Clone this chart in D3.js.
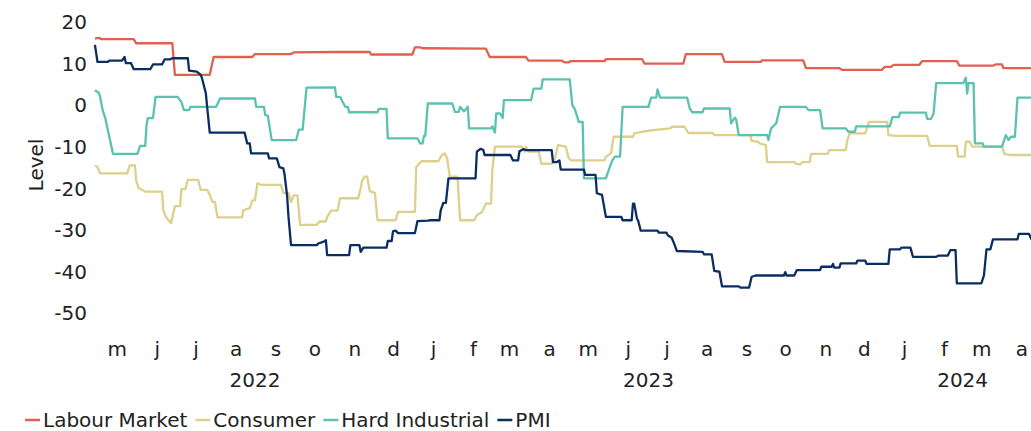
<!DOCTYPE html>
<html>
<head>
<meta charset="utf-8">
<script src="https://cdn.jsdelivr.net/npm/d3@7"></script>
<style>
    body { margin: 0; background: #fff; }
    svg text { font-family: "DejaVu Sans", sans-serif; fill: #222; }
</style>
</head>
<body>
<div id="chart"></div>
<script>

// DATA

const labourMarket = [["2022-04-29", 16.1], ["2022-05-02", 16.3], ["2022-05-04", 16.0], ["2022-05-29", 16.0], ["2022-05-31", 15.0], ["2022-06-28", 15.0], ["2022-06-30", 7.4], ["2022-07-27", 7.4], ["2022-07-30", 11.7], ["2022-08-29", 11.7], ["2022-08-31", 12.4], ["2022-09-28", 12.4], ["2022-09-30", 12.8], ["2022-10-30", 12.9], ["2022-11-28", 12.9], ["2022-11-29", 12.3], ["2022-12-31", 12.3], ["2023-01-02", 14.0], ["2023-01-06", 14.0], ["2023-01-08", 13.8], ["2023-02-26", 13.7], ["2023-03-01", 11.7], ["2023-03-29", 11.7], ["2023-03-31", 10.8], ["2023-04-26", 10.8], ["2023-04-28", 10.4], ["2023-05-01", 10.4], ["2023-05-03", 10.7], ["2023-05-29", 10.7], ["2023-05-30", 11.2], ["2023-06-27", 11.2], ["2023-06-29", 10.1], ["2023-07-29", 10.1], ["2023-07-31", 12.4], ["2023-08-28", 12.4], ["2023-08-30", 10.5], ["2023-09-27", 10.5], ["2023-09-28", 10.9], ["2023-10-30", 10.9], ["2023-11-01", 9.0], ["2023-11-27", 9.0], ["2023-11-29", 8.6], ["2023-12-30", 8.6], ["2024-01-01", 9.3], ["2024-01-06", 9.3], ["2024-01-08", 9.8], ["2024-01-28", 9.8], ["2024-01-30", 10.7], ["2024-02-26", 10.7], ["2024-02-28", 9.6], ["2024-03-25", 9.6], ["2024-03-27", 9.9], ["2024-04-01", 9.9], ["2024-04-02", 9.0], ["2024-04-26", 9.0]];

const consumer = [["2022-04-29", -14.4], ["2022-05-01", -14.8], ["2022-05-03", -16.3], ["2022-05-24", -16.3], ["2022-05-26", -14.4], ["2022-05-30", -14.4], ["2022-05-31", -18.1], ["2022-06-02", -19.9], ["2022-06-07", -20.7], ["2022-06-20", -20.7], ["2022-06-21", -25.2], ["2022-06-23", -26.8], ["2022-06-26", -27.9], ["2022-06-27", -28.3], ["2022-06-30", -24.2], ["2022-07-04", -24.2], ["2022-07-05", -20.1], ["2022-07-08", -20.1], ["2022-07-10", -17.9], ["2022-07-18", -17.9], ["2022-07-20", -20.3], ["2022-07-25", -20.3], ["2022-07-27", -21.5], ["2022-07-29", -23.2], ["2022-07-31", -23.2], ["2022-08-02", -26.9], ["2022-08-21", -26.9], ["2022-08-22", -25.2], ["2022-08-27", -24.7], ["2022-08-29", -22.8], ["2022-08-31", -22.8], ["2022-09-02", -18.7], ["2022-09-05", -19.1], ["2022-09-20", -19.1], ["2022-09-22", -21.0], ["2022-09-26", -21.0], ["2022-09-28", -23.2], ["2022-09-30", -21.6], ["2022-10-03", -21.6], ["2022-10-05", -28.7], ["2022-10-18", -28.7], ["2022-10-20", -27.9], ["2022-10-25", -27.9], ["2022-10-26", -26.8], ["2022-10-29", -25.3], ["2022-11-03", -25.3], ["2022-11-05", -22.3], ["2022-11-19", -22.3], ["2022-11-21", -19.9], ["2022-11-22", -18.1], ["2022-11-24", -17.1], ["2022-11-26", -17.1], ["2022-11-28", -20.6], ["2022-12-02", -21.0], ["2022-12-04", -27.6], ["2022-12-18", -27.6], ["2022-12-20", -25.6], ["2023-01-02", -25.6], ["2023-01-03", -14.8], ["2023-01-07", -13.4], ["2023-01-20", -13.4], ["2023-01-23", -11.9], ["2023-01-25", -11.5], ["2023-01-27", -12.7], ["2023-01-29", -17.1], ["2023-02-04", -17.1], ["2023-02-06", -27.6], ["2023-02-17", -27.6], ["2023-02-19", -26.4], ["2023-02-23", -25.6], ["2023-02-26", -23.6], ["2023-03-02", -23.6], ["2023-03-03", -15.6], ["2023-03-05", -9.9], ["2023-03-26", -9.9], ["2023-03-28", -11.1], ["2023-03-29", -9.9], ["2023-03-31", -11.1], ["2023-04-08", -11.1], ["2023-04-10", -14.0], ["2023-04-18", -14.0], ["2023-04-20", -13.3], ["2023-04-23", -9.5], ["2023-04-29", -9.9], ["2023-05-01", -12.5], ["2023-05-03", -13.2], ["2023-05-29", -13.2], ["2023-05-30", -12.3], ["2023-06-03", -11.5], ["2023-06-05", -7.5], ["2023-06-20", -7.5], ["2023-06-21", -6.7], ["2023-06-27", -6.3], ["2023-07-03", -6.0], ["2023-07-19", -5.5], ["2023-07-20", -5.1], ["2023-07-30", -5.1], ["2023-08-02", -6.6], ["2023-08-21", -6.6], ["2023-08-22", -7.1], ["2023-09-19", -7.1], ["2023-09-20", -8.5], ["2023-09-25", -8.7], ["2023-09-26", -9.1], ["2023-10-01", -9.5], ["2023-10-02", -13.6], ["2023-10-23", -13.6], ["2023-10-25", -14.1], ["2023-10-28", -14.1], ["2023-10-29", -13.6], ["2023-11-04", -13.6], ["2023-11-05", -11.6], ["2023-11-18", -11.6], ["2023-11-19", -10.7], ["2023-12-02", -10.7], ["2023-12-03", -8.5], ["2023-12-05", -6.7], ["2023-12-17", -6.7], ["2023-12-20", -3.9], ["2024-01-03", -3.9], ["2024-01-04", -7.1], ["2024-01-10", -7.3], ["2024-02-03", -7.3], ["2024-02-05", -9.7], ["2024-02-26", -9.7], ["2024-02-27", -12.3], ["2024-03-03", -12.3], ["2024-03-04", -8.7], ["2024-03-07", -8.7], ["2024-03-09", -9.9], ["2024-04-01", -9.9], ["2024-04-03", -11.7], ["2024-04-09", -11.9], ["2024-04-26", -11.9]];

const hardIndustrial = [["2022-04-29", 3.7], ["2022-05-02", 3.1], ["2022-05-03", 2.1], ["2022-05-05", -1.1], ["2022-05-07", -3.0], ["2022-05-09", -5.9], ["2022-05-13", -11.6], ["2022-06-01", -11.6], ["2022-06-03", -9.7], ["2022-06-07", -9.7], ["2022-06-08", -4.7], ["2022-06-09", -3.0], ["2022-06-13", -3.0], ["2022-06-15", 2.1], ["2022-07-02", 2.1], ["2022-07-05", 0.9], ["2022-07-07", -1.1], ["2022-07-11", -1.1], ["2022-07-12", -0.3], ["2022-08-01", -0.3], ["2022-08-04", 1.7], ["2022-08-31", 1.7], ["2022-09-01", -0.3], ["2022-09-07", -0.3], ["2022-09-08", -2.3], ["2022-09-10", -2.4], ["2022-09-13", -8.3], ["2022-10-02", -8.3], ["2022-10-04", -5.8], ["2022-10-07", -5.8], ["2022-10-10", 4.3], ["2022-11-01", 4.4], ["2022-11-02", 2.1], ["2022-11-05", 2.1], ["2022-11-09", -0.3], ["2022-11-11", -0.3], ["2022-11-12", -1.6], ["2022-12-04", -1.6], ["2022-12-05", -0.8], ["2022-12-11", -0.8], ["2022-12-12", -7.9], ["2023-01-04", -7.9], ["2023-01-06", -9.1], ["2023-01-08", -9.1], ["2023-01-09", -7.3], ["2023-01-10", -7.3], ["2023-01-12", 0.5], ["2023-01-31", 0.5], ["2023-02-02", -1.5], ["2023-02-05", -1.5], ["2023-02-06", -0.3], ["2023-02-09", -1.4], ["2023-02-12", -0.3], ["2023-02-13", -5.5], ["2023-03-02", -5.5], ["2023-03-03", -5.0], ["2023-03-05", -6.5], ["2023-03-06", -1.9], ["2023-03-09", -1.9], ["2023-03-11", -3.0], ["2023-03-12", 1.3], ["2023-04-02", 1.3], ["2023-04-04", 4.1], ["2023-04-10", 4.1], ["2023-04-11", 6.3], ["2023-05-02", 6.3], ["2023-05-04", 0.1], ["2023-05-06", -0.9], ["2023-05-09", -3.9], ["2023-05-12", -3.9], ["2023-05-13", -17.5], ["2023-05-30", -17.5], ["2023-06-02", -14.8], ["2023-06-04", -13.2], ["2023-06-06", -12.3], ["2023-06-10", -12.3], ["2023-06-12", -0.3], ["2023-07-02", -0.3], ["2023-07-04", 1.9], ["2023-07-08", 1.9], ["2023-07-09", 3.9], ["2023-07-11", 1.9], ["2023-08-01", 1.9], ["2023-08-03", -0.7], ["2023-08-05", -1.6], ["2023-08-13", -1.6], ["2023-08-14", -0.7], ["2023-09-03", -0.7], ["2023-09-04", -4.3], ["2023-09-07", -2.9], ["2023-09-08", -3.4], ["2023-09-10", -7.1], ["2023-10-02", -7.1], ["2023-10-03", -8.3], ["2023-10-05", -5.5], ["2023-10-09", -4.3], ["2023-10-12", -0.3], ["2023-11-01", -0.3], ["2023-11-03", -1.1], ["2023-11-12", -1.1], ["2023-11-14", -5.5], ["2023-12-02", -5.5], ["2023-12-04", -6.3], ["2023-12-09", -6.3], ["2023-12-10", -5.0], ["2024-01-05", -5.0], ["2024-01-07", -2.8], ["2024-01-12", -2.8], ["2024-01-13", -1.7], ["2024-02-02", -1.7], ["2024-02-03", -3.2], ["2024-02-06", -3.2], ["2024-02-08", -1.9], ["2024-02-10", 5.4], ["2024-03-02", 5.4], ["2024-03-04", 6.7], ["2024-03-05", 2.9], ["2024-03-06", 5.4], ["2024-03-10", 5.4], ["2024-03-11", -9.1], ["2024-03-17", -9.1], ["2024-03-18", -9.9], ["2024-04-01", -9.9], ["2024-04-04", -7.1], ["2024-04-06", -8.3], ["2024-04-08", -7.5], ["2024-04-11", -7.5], ["2024-04-13", 1.9], ["2024-04-26", 1.9]];

const pmi = [["2022-04-29", 14.6], ["2022-05-01", 10.5], ["2022-05-09", 10.5], ["2022-05-10", 10.8], ["2022-05-20", 10.8], ["2022-05-22", 11.7], ["2022-05-23", 10.2], ["2022-05-27", 10.2], ["2022-05-29", 8.8], ["2022-06-11", 8.8], ["2022-06-13", 9.9], ["2022-06-20", 9.9], ["2022-06-22", 11.1], ["2022-06-26", 11.1], ["2022-06-28", 11.4], ["2022-07-10", 11.4], ["2022-07-11", 8.4], ["2022-07-17", 8.2], ["2022-07-20", 7.4], ["2022-07-21", 6.6], ["2022-07-24", 2.9], ["2022-07-25", -0.4], ["2022-07-27", -6.5], ["2022-08-23", -6.5], ["2022-08-25", -9.1], ["2022-08-27", -9.1], ["2022-08-28", -11.5], ["2022-09-10", -11.5], ["2022-09-11", -12.7], ["2022-09-17", -12.7], ["2022-09-19", -14.8], ["2022-09-22", -15.1], ["2022-09-23", -16.6], ["2022-09-25", -21.9], ["2022-09-26", -26.7], ["2022-09-28", -33.6], ["2022-10-18", -33.6], ["2022-10-19", -33.2], ["2022-10-23", -32.8], ["2022-10-25", -32.4], ["2022-10-26", -36.0], ["2022-11-12", -36.0], ["2022-11-13", -33.6], ["2022-11-20", -33.6], ["2022-11-21", -35.2], ["2022-11-23", -34.2], ["2022-12-11", -34.2], ["2022-12-12", -32.6], ["2022-12-15", -32.6], ["2022-12-16", -30.3], ["2022-12-18", -30.1], ["2022-12-20", -30.7], ["2023-01-02", -30.7], ["2023-01-04", -27.8], ["2023-01-12", -27.7], ["2023-01-14", -27.6], ["2023-01-21", -27.6], ["2023-01-22", -25.2], ["2023-01-24", -23.4], ["2023-01-26", -23.4], ["2023-01-28", -17.5], ["2023-02-18", -17.5], ["2023-02-19", -11.1], ["2023-02-22", -10.4], ["2023-02-24", -10.7], ["2023-02-25", -11.9], ["2023-03-17", -11.9], ["2023-03-19", -13.2], ["2023-03-23", -13.2], ["2023-03-24", -11.0], ["2023-03-27", -10.5], ["2023-03-29", -10.7], ["2023-04-18", -10.7], ["2023-04-19", -13.6], ["2023-04-22", -13.6], ["2023-04-24", -13.2], ["2023-04-25", -15.4], ["2023-05-13", -15.4], ["2023-05-14", -16.7], ["2023-05-22", -16.7], ["2023-05-23", -21.1], ["2023-05-27", -21.5], ["2023-05-30", -26.8], ["2023-06-11", -26.8], ["2023-06-12", -27.6], ["2023-06-19", -27.6], ["2023-06-20", -23.6], ["2023-06-21", -23.6], ["2023-06-23", -27.1], ["2023-06-24", -27.7], ["2023-06-26", -30.1], ["2023-07-09", -30.1], ["2023-07-10", -30.6], ["2023-07-16", -30.6], ["2023-07-17", -31.2], ["2023-07-20", -31.8], ["2023-07-22", -33.3], ["2023-07-24", -35.0], ["2023-08-13", -35.2], ["2023-08-14", -35.8], ["2023-08-20", -35.8], ["2023-08-22", -39.8], ["2023-08-26", -40.0], ["2023-08-28", -43.5], ["2023-09-10", -43.5], ["2023-09-11", -43.8], ["2023-09-18", -43.8], ["2023-09-20", -41.2], ["2023-09-23", -40.9], ["2023-10-15", -40.9], ["2023-10-16", -40.1], ["2023-10-17", -40.9], ["2023-10-23", -40.9], ["2023-10-25", -39.6], ["2023-11-12", -39.6], ["2023-11-13", -38.8], ["2023-11-21", -38.8], ["2023-11-22", -38.1], ["2023-11-23", -39.0], ["2023-11-27", -39.0], ["2023-11-28", -38.0], ["2023-12-10", -38.0], ["2023-12-11", -37.3], ["2023-12-17", -37.3], ["2023-12-18", -38.1], ["2024-01-04", -38.1], ["2024-01-05", -34.6], ["2024-01-13", -34.6], ["2024-01-14", -34.2], ["2024-01-21", -34.2], ["2024-01-23", -36.4], ["2024-02-10", -36.4], ["2024-02-12", -36.1], ["2024-02-19", -36.1], ["2024-02-21", -34.8], ["2024-02-25", -34.8], ["2024-02-26", -42.8], ["2024-03-16", -42.8], ["2024-03-18", -40.9], ["2024-03-20", -34.6], ["2024-03-23", -34.6], ["2024-03-25", -32.2], ["2024-04-13", -32.2], ["2024-04-14", -30.9], ["2024-04-22", -30.9], ["2024-04-24", -32.3]];

const seriesNames = ['Labour Market', 'Consumer', 'Hard Industrial', 'PMI'];
const seriesColors = ['#e1604f', '#ddd08c', '#5cc1ae', '#0c2d62'];
const yTicks = [20, 10, 0, -10, -20, -30, -40, -50];

//////////////////////////////////////////////

const width = 1031,
    height = 431;

const parse = d3.timeParse('%Y-%m-%d');

const svg = d3.select('#chart')
    .append('svg')
    .attr('width', width)
    .attr('height', height);

const x_scale = d3.scaleTime()
    .domain([new Date(2022, 4, 1), new Date(2024, 4, 1)])
    .range([97.5, 1040.7]);

const y_scale = d3.scaleLinear()
    .domain([-50, 20])
    .range([313.3, 22.5]);

// y axis (plain hyphen for the minus sign, as in the original)
const y_axis = d3.axisLeft(y_scale)
    .tickValues(yTicks)
    .tickSize(0)
    .tickPadding(8)
    .tickFormat((d) => String(d));

svg.append('g')
    .attr('transform', 'translate(95, 0)')
    .call(y_axis)
    .call(g => g.select('.domain').remove())
    .selectAll('text')
        .style('font-size', '20px')
        .style('font-family', '"DejaVu Sans", sans-serif')
        .attr('fill', '#222');

svg.append('text')
    .attr('transform', 'translate(43, 165) rotate(-90)')
    .style('text-anchor', 'middle')
    .style('font-size', '20px')
    .text('Level');

// x axis: month initials at mid-month
const months = d3.timeMonth.range(new Date(2022, 4, 1), new Date(2024, 4, 1));
const mid_month = (d) => new Date(d.getFullYear(), d.getMonth(), 16);

const x_axis = d3.axisBottom(x_scale)
    .tickValues(months.map(mid_month))
    .tickSize(0)
    .tickPadding(12)
    .tickFormat((d) => d3.timeFormat('%B')(d)[0].toLowerCase());

svg.append('g')
    .attr('transform', 'translate(0, 330)')
    .call(x_axis)
    .call(g => g.select('.domain').remove())
    .selectAll('text')
        .style('font-size', '20px')
        .style('font-family', '"DejaVu Sans", sans-serif')
        .attr('fill', '#222');

const years = d3.groups(months, (d) => d.getFullYear());

svg.selectAll('.year')
    .data(years)
    .enter()
    .append('text')
        .attr('class', 'year')
        .attr('x', (d) => (x_scale(mid_month(d[1][0])) + x_scale(mid_month(d[1][d[1].length - 1]))) / 2)
        .attr('y', 387)
        .style('text-anchor', 'middle')
        .style('font-size', '20px')
        .text((d) => d[0]);

// lines
const line = d3.line()
    .x((d) => x_scale(parse(d[0])))
    .y((d) => y_scale(d[1]));

const all_series = [labourMarket, consumer, hardIndustrial, pmi];

svg.append('g')
    .selectAll('path')
    .data(all_series)
    .enter()
    .append('path')
        .attr('d', line)
        .attr('fill', 'none')
        .attr('stroke', (d, i) => seriesColors[i])
        .attr('stroke-width', 2.3)
        .attr('stroke-linejoin', 'round');

// legend
const legend = svg.append('g')
    .attr('transform', 'translate(0, 427)');

let pos = 25;
seriesNames.forEach((name, i) => {
    legend.append('line')
        .attr('x1', pos)
        .attr('x2', pos + 15)
        .attr('y1', -7)
        .attr('y2', -7)
        .attr('stroke', seriesColors[i])
        .attr('stroke-width', 2.5);
    const t = legend.append('text')
        .attr('x', pos + 18)
        .style('font-size', '20px')
        .text(name);
    pos += 18 + t.node().getComputedTextLength() + 8;
});

</script>
</body>
</html>
